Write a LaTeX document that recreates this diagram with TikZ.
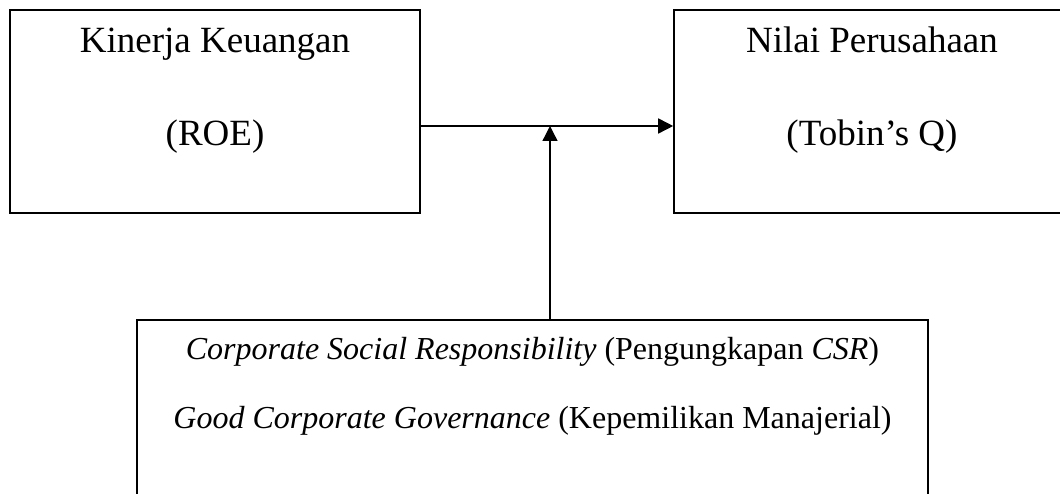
\documentclass[tikz,border=0pt]{standalone}
\usepackage{fontspec}
\setmainfont{Liberation Serif}
\usetikzlibrary{arrows.meta}
\begin{document}
\begin{tikzpicture}[x=1pt,y=-1pt,
  box/.style={draw, line width=1.6pt, inner sep=0pt},
  bigtxt/.style={anchor=base, inner sep=0pt, font=\fontsize{37}{40}\selectfont},
  smalltxt/.style={anchor=base, inner sep=0pt, font=\fontsize{32}{36}\selectfont},
  conn/.style={line width=1.6pt, -{Triangle[length=15pt,width=15pt]}}]
\useasboundingbox (0,0) rectangle (1060,494);
\clip (0,0) rectangle (1060,494);
\fill[white] (0,0) rectangle (1060,494);
% boxes
\node[box, minimum width=410pt, minimum height=203pt] (roe) at (215,111.5) {};
\node[box, minimum width=396pt, minimum height=203pt] (tq) at (872,111.5) {};
\node[box, minimum width=791pt, minimum height=220pt] (gcg) at (532.5,430) {};
% texts
\node[bigtxt] (t1) at (215,53) {Kinerja Keuangan};
\node[bigtxt] (t2) at (215,146) {(ROE)};
\node[bigtxt] (t3) at (872,53) {Nilai Perusahaan};
\node[bigtxt] (t4) at (872,146) {(Tobin’s Q)};
\node[smalltxt] (t5) at (532.5,359) {\textit{Corporate Social Responsibility} (Pengungkapan \textit{CSR})};
\node[smalltxt] (t6) at (532.5,428) {\textit{Good Corporate Governance} (Kepemilikan Manajerial)};
% connectors
\coordinate (mid) at (550,126);
\draw[conn] (roe.east |- mid) -- (tq.west |- mid);
\draw[conn, line width=1.3pt] (gcg.north -| mid) -- (mid);
\end{tikzpicture}
\end{document}
